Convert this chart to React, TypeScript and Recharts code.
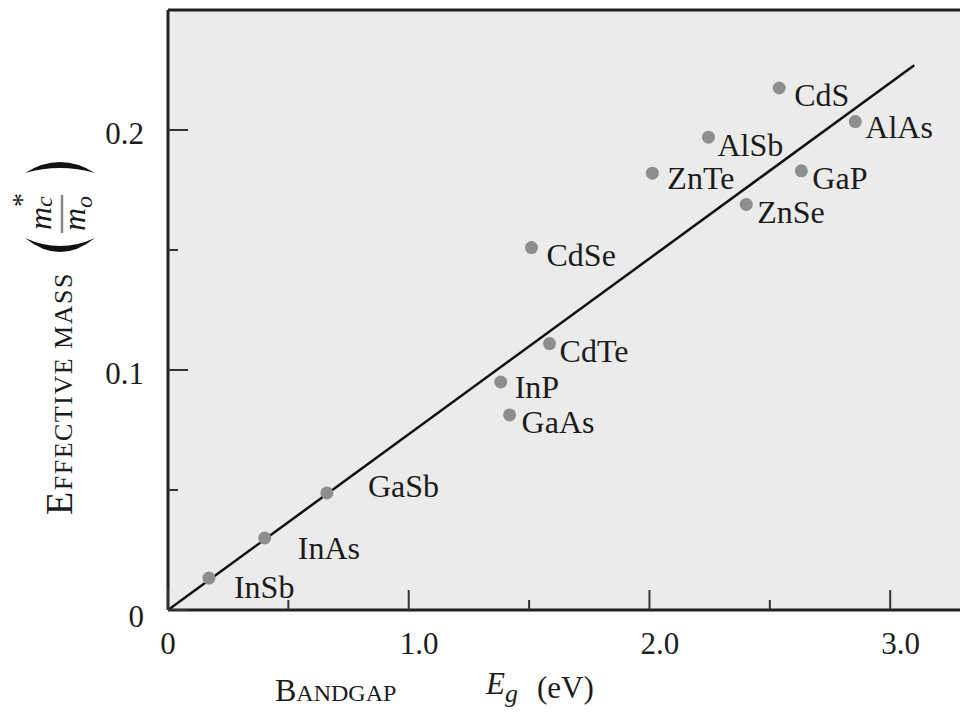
import {
  ScatterChart,
  Scatter,
  XAxis,
  YAxis,
  CartesianGrid,
  ReferenceLine,
} from "recharts";

const compounds = ["InSb", "InAs", "GaSb", "InP", "GaAs", "CdTe", "CdSe", "ZnTe", "AlSb", "ZnSe", "GaP", "CdS", "AlAs"];
const bandgap = [0.17, 0.402, 0.66, 1.382, 1.419, 1.585, 1.51, 2.012, 2.245, 2.402, 2.631, 2.539, 2.855];
const effMass = [0.0133, 0.03, 0.0488, 0.095, 0.0813, 0.111, 0.151, 0.182, 0.197, 0.169, 0.183, 0.2175, 0.2035];

const fitLine = [
  { x: 0, y: 0 },
  { x: 3.1, y: 0.227 },
];

const xTicks = [0, 0.5, 1, 1.5, 2, 2.5, 3];
const yTicks = [0, 0.05, 0.1, 0.15, 0.2];

// where each label sits relative to its dot (text start, baseline)
const labelNudge: Record<string, [number, number]> = {
  InSb: [25, 20],
  InAs: [33, 21],
  GaSb: [41, 4],
  InP: [14, 16],
  GaAs: [12, 18],
  CdTe: [10, 18],
  CdSe: [15, 18],
  ZnTe: [15, 16],
  AlSb: [9, 19],
  ZnSe: [11, 19],
  GaP: [11, 18],
  CdS: [15, 18],
  AlAs: [10, 16],
};

const points = compounds.map((name, i) => ({ name, x: bandgap[i], y: effMass[i] }));

const serif = "'Liberation Serif', 'DejaVu Serif', serif";
const ink = "#1c1c1c";

function Dot(props: any) {
  const { cx, cy, payload } = props;
  const [dx, dy] = labelNudge[payload.name] ?? [12, 18];
  return (
    <g>
      <circle cx={cx} cy={cy} r={6.5} fill="#8e8e8e" />
      <text x={cx + dx} y={cy + dy} fontFamily={serif} fontSize={32} fill={ink}>
        {payload.name}
      </text>
    </g>
  );
}

function XTick(props: any) {
  const { x, y, payload } = props;
  const v = payload.value as number;
  const major = Number.isInteger(v);
  return (
    <g>
      <line x1={x} x2={x} y1={y} y2={y - (major ? 20 : 10)} stroke="#333" strokeWidth={2} />
      {major && (
        <text
          x={v === 0 ? x : x - 9}
          y={y + 44}
          textAnchor={v === 0 ? "middle" : "start"}
          fontFamily={serif}
          fontSize={31}
          fill={ink}
        >
          {v === 0 ? "0" : v.toFixed(1)}
        </text>
      )}
    </g>
  );
}

function YTick(props: any) {
  const { x, y, payload } = props;
  const v = payload.value as number;
  const major = Math.abs(v * 10 - Math.round(v * 10)) < 1e-9;
  return (
    <g>
      <line x1={x} x2={x + (major ? 20 : 10)} y1={y} y2={y} stroke="#333" strokeWidth={2} />
      {major && (
        <text x={x - 24} y={y + (v === 0 ? 17 : 14)} textAnchor="end" fontFamily={serif} fontSize={31} fill={ink}>
          {v === 0 ? "0" : v.toFixed(1)}
        </text>
      )}
    </g>
  );
}

export default function App() {
  return (
    <div style={{ position: "absolute", left: 0, top: 0, background: "#fff" }}>
      <ScatterChart width={960} height={713} margin={{ top: 10, right: 0, bottom: 102, left: 167 }}>
        <CartesianGrid fill="#ebebeb" horizontal={false} vertical={false} />
        <XAxis
          type="number"
          dataKey="x"
          domain={[0, 3.29]}
          allowDataOverflow
          ticks={xTicks}
          interval={0}
          height={1}
          tickSize={0}
          tickMargin={0}
          tickLine={false}
          axisLine={{ stroke: "#222", strokeWidth: 3 }}
          tick={XTick}
        />
        <YAxis
          type="number"
          dataKey="y"
          domain={[0, 0.25]}
          allowDataOverflow
          ticks={yTicks}
          interval={0}
          width={1}
          tickSize={0}
          tickMargin={0}
          tickLine={false}
          axisLine={{ stroke: "#222", strokeWidth: 3 }}
          tick={YTick}
        />
        <ReferenceLine y={0.25} stroke="#222" strokeWidth={3} />
        <ReferenceLine
          segment={[fitLine[0], fitLine[1]]}
          stroke="#111"
          strokeWidth={2.5}
        />
        <Scatter data={points} shape={<Dot />} isAnimationActive={false} />

        {/* y axis title, rotated */}
        <g transform="rotate(-90)">
          <text x={-515} y={72} fontFamily={serif} fill={ink} letterSpacing={1.5}>
            <tspan fontSize={38}>E</tspan>
            <tspan fontSize={26}>FFECTIVE MASS</tspan>
          </text>
          <path d="M -238 25 Q -266 60 -238 95 Q -254 60 -238 25 Z" fill="#111" />
          <path d="M -173 25 Q -151 60 -173 95 Q -163 60 -173 25 Z" fill="#111" />
          <line x1={-233} x2={-195} y1={62} y2={62} stroke="#888" strokeWidth={2.5} />
          <text x={-230} y={51} fontFamily={serif} fontStyle="italic" fill={ink}>
            <tspan fontSize={32}>m</tspan>
            <tspan fontSize={24} dy={1}>c</tspan>
          </text>
          <text x={-207} y={31} fontFamily={serif} fontSize={28} fill={ink}>
            *
          </text>
          <text x={-231} y={85} fontFamily={serif} fontStyle="italic" fill={ink}>
            <tspan fontSize={32}>m</tspan>
            <tspan fontSize={24} dy={7}>o</tspan>
          </text>
        </g>

        {/* x axis title */}
        <text x={275} y={701} fontFamily={serif} fill={ink}>
          <tspan fontSize={32}>B</tspan>
          <tspan fontSize={24}>ANDGAP</tspan>
        </text>
        <text x={486} y={694} fontFamily={serif} fontStyle="italic" fill={ink}>
          <tspan fontSize={31}>E</tspan>
          <tspan fontSize={26} dy={8}>g</tspan>
        </text>
        <text x={537} y={698} fontFamily={serif} fontSize={31} fill={ink}>
          (eV)
        </text>
      </ScatterChart>
    </div>
  );
}
